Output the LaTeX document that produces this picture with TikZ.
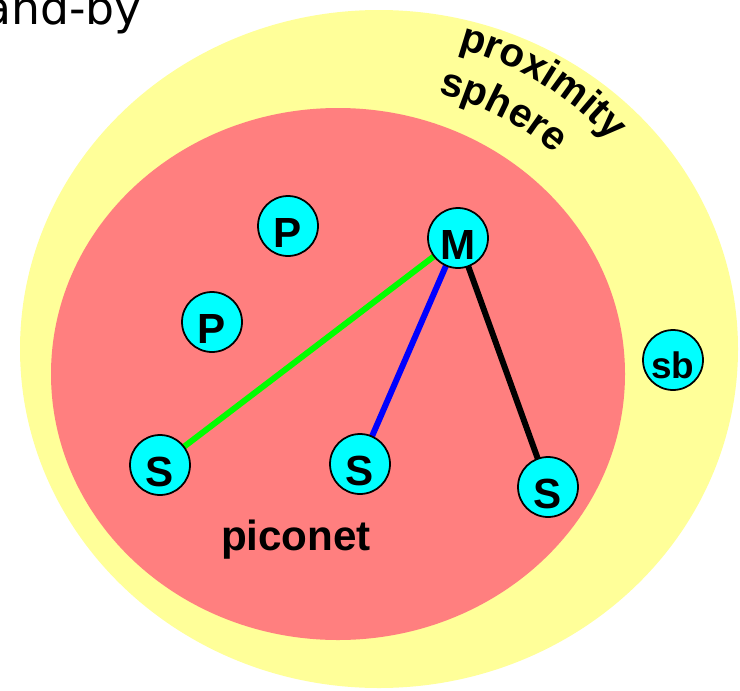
\documentclass[tikz,border=0pt]{standalone}
\usepackage{fontspec}
\setmainfont{Liberation Sans}
\newfontfamily\plainsans{DejaVu Sans}
\usepackage{xcolor}
\usepackage{tikz}
\usetikzlibrary{positioning,backgrounds,decorations.text}
\definecolor{proxyellow}{HTML}{FFFF99}
\definecolor{piconred}{HTML}{FF7F7F}
\definecolor{unitcyan}{HTML}{00FFFF}
\definecolor{linkgreen}{HTML}{00FF00}
\definecolor{linkblue}{HTML}{0000FF}
\newcommand{\proxfont}{\fontsize{23}{26}\selectfont\bfseries}
\pgfdeclarelayer{links}
\pgfsetlayers{background,links,main}

\begin{document}
\begin{tikzpicture}[x=0.02cm,y=-0.02cm,
  unit/.style={circle,draw=black,line width=1pt,fill=unitcyan,
    minimum size=1.2cm,inner sep=0pt,text height=24pt,text depth=0pt,
    font=\fontsize{24}{26}\selectfont\bfseries},
  link/.style={line width=3.4pt},
  arclabel/.style={decorate,decoration={text along path,text align=center,
    text={|\proxfont|#1}}}]
\useasboundingbox (0,0) rectangle (740,690);
\clip (0,0) rectangle (740,690);
% the two areas
\begin{scope}[on background layer]
\fill[proxyellow] (379,349) ellipse [x radius=359,y radius=339];
\fill[piconred] (338,374) ellipse [x radius=287,y radius=266];
\end{scope}
\coordinate (hub) at (379,349);
\node[anchor=base east,font=\plainsans\fontsize{26}{30}\selectfont] (standby) at (148,24) {stand-by};
% curved label of the outer area
\path[arclabel=proximity] (hub) ++(-78:311) arc[start angle=-78,end angle=-39,radius=311];
\path[arclabel=sphere] (hub) ++(-83:262) arc[start angle=-83,end angle=-42,radius=262];
\node[font=\fontsize{24}{28}\selectfont\bfseries] (piclabel) at (296,540) {piconet};
% units
\node[unit] (master) at (458,238) {M};
\node[unit] (slaveA) at (160,465) {S};
\node[unit] (slaveB) at (360,464) {S};
\node[unit] (slaveC) at (548,487) {S};
\node[unit] (parkA) at (288,226) {P};
\node[unit] (parkB) at (212,322) {P};
\node[unit,text height=21pt,font=\fontsize{21}{23}\selectfont\bfseries] (standbyunit) at (673,360) {sb};
% links behind the units
\begin{pgfonlayer}{links}
\draw[link,linkgreen] (master.center) -- (slaveA.center);
\draw[link,linkblue] (master.center) -- (slaveB.center);
\draw[link,black] (master.center) -- (slaveC.center);
\end{pgfonlayer}
\end{tikzpicture}
\end{document}
